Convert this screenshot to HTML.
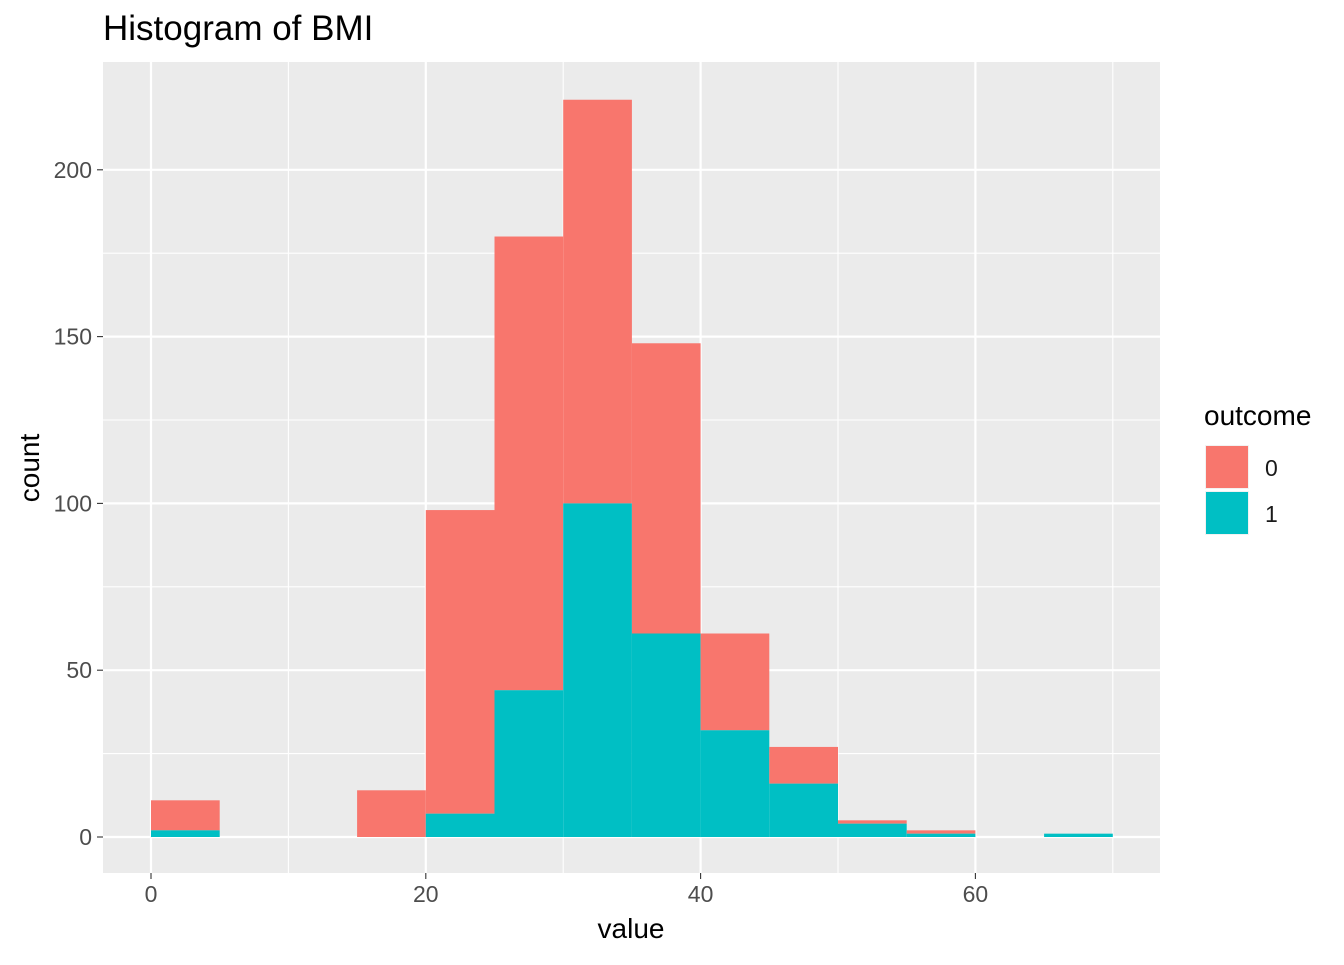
<!DOCTYPE html>
<html><head><meta charset="utf-8"><style>
body{margin:0;background:#fff;font-family:"Liberation Sans",Arial,sans-serif;}
svg text{font-family:"Liberation Sans",Arial,sans-serif;}
</style></head><body>
<svg id="chart" width="1344" height="960" xmlns="http://www.w3.org/2000/svg">
<text x="103" y="40" font-size="35" fill="#000">Histogram of BMI</text>
<rect x="103" y="62" width="1057" height="811" fill="#EBEBEB"/>
<g id="grid"></g><g id="bars"></g><g id="axes"></g>
<text x="631" y="938" font-size="28" text-anchor="middle">value</text>
<text transform="translate(39,468) rotate(-90)" font-size="28" text-anchor="middle">count</text>
<g>
<text x="1204" y="425" font-size="28">outcome</text>
<rect x="1205" y="445" width="44" height="44" fill="#F2F2F2"/>
<rect x="1206" y="446" width="42" height="42" fill="#F8766D"/>
<rect x="1205" y="491" width="44" height="44" fill="#F2F2F2"/>
<rect x="1206" y="492" width="42" height="42" fill="#00BFC4"/>
<text x="1265" y="476" font-size="23" fill="#1a1a1a">0</text>
<text x="1265" y="522" font-size="23" fill="#1a1a1a">1</text>
</g>
</svg>
<script>
const binStarts=[0,5,10,15,20,25,30,35,40,45,50,55,60,65];
const totalCounts=[11,0,0,14,98,180,221,148,61,27,5,2,0,1];
const outcome1Counts=[2,0,0,0,7,44,100,61,32,16,4,1,0,1];
const xTicks=[0,20,40,60];
const yTicks=[0,50,100,150,200];
const binWidth=5;
const NS="http://www.w3.org/2000/svg";
const X=v=>151+v*13.74;
const Y=v=>837-v*3.336;
function mk(tag,attrs,parent){const e=document.createElementNS(NS,tag);for(const k in attrs)e.setAttribute(k,attrs[k]);parent.appendChild(e);return e;}
const grid=document.getElementById('grid'),bars=document.getElementById('bars'),axes=document.getElementById('axes');
[10,30,50,70].forEach(v=>{const l=mk('line',{x1:X(v),x2:X(v),y1:62,y2:873,stroke:'#fff','stroke-width':1.1},grid);

});
[25,75,125,175].forEach(v=>{const l=mk('line',{x1:103,x2:1160,y1:Y(v),y2:Y(v),stroke:'#fff','stroke-width':1.1},grid);

});
xTicks.forEach(v=>{const l=mk('line',{x1:X(v),x2:X(v),y1:62,y2:873,stroke:'#fff','stroke-width':2.2},grid);


const t=mk('line',{x1:X(v),x2:X(v),y1:873,y2:879,stroke:'#333','stroke-width':1.1},axes);


const tx=mk('text',{x:X(v),y:902,'font-size':23,fill:'#4d4d4d','text-anchor':'middle'},axes);tx.textContent=v;

});
yTicks.forEach(v=>{const l=mk('line',{x1:103,x2:1160,y1:Y(v),y2:Y(v),stroke:'#fff','stroke-width':2.2},grid);


const t=mk('line',{x1:97,x2:103,y1:Y(v),y2:Y(v),stroke:'#333','stroke-width':1.1},axes);


const tx=mk('text',{x:92,y:Y(v)+8,'font-size':23,fill:'#4d4d4d','text-anchor':'end'},axes);tx.textContent=v;

});
binStarts.forEach((b,i)=>{
 const tot=totalCounts[i],one=outcome1Counts[i],zero=tot-one;
 const x0=X(b),w=X(b+binWidth)-X(b);
 if(zero>0){const r=mk('rect',{x:x0,y:Y(tot),width:w,height:Y(one)-Y(tot),fill:'#F8766D'},bars);
 
 }
 if(one>0){const r=mk('rect',{x:x0,y:Y(one),width:w,height:Y(0)-Y(one),fill:'#00BFC4'},bars);
 
 }
});
</script>
</body></html>
